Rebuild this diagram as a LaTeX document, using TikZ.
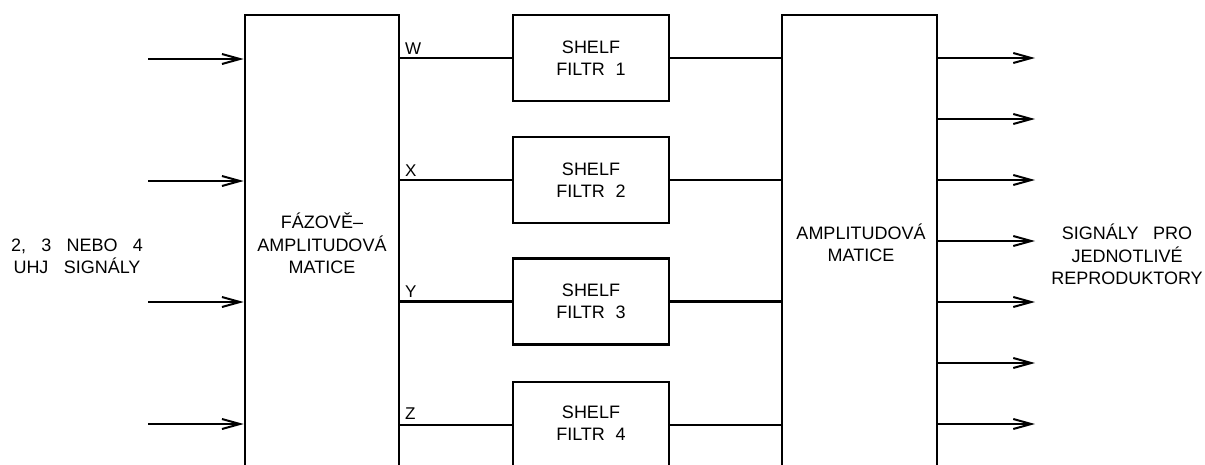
\documentclass[tikz,border=0pt]{standalone}
\usepackage{fontspec}
\setmainfont{Liberation Sans}
\usetikzlibrary{arrows.meta}
\begin{document}
\begin{tikzpicture}[x=1pt,y=-1pt,
  blk/.style={draw,line width=2.6pt,inner sep=0pt},
  txt/.style={font=\fontsize{18}{22.5}\selectfont,align=center,inner sep=0pt},
  lbl/.style={font=\fontsize{17}{20}\selectfont,inner sep=0pt,anchor=south west},
  conn/.style={line width=2.2pt},
  arr/.style={line width=2pt,-{Straight Barb[length=18pt,width=10pt,line width=2pt]}}]
\useasboundingbox (0,0) rectangle (1205,464);
\clip (0,0) rectangle (1205,464);
% main blocks
\node[blk,minimum width=154pt,minimum height=485pt] (fam) at (322,257.5) {};
\node[blk,minimum width=155pt,minimum height=485pt] (am) at (859.5,257.5) {};
\node[blk,minimum width=156pt,minimum height=86pt] (f1) at (591,58) {};
\node[blk,minimum width=156pt,minimum height=86pt] (f2) at (591,180) {};
\node[blk,minimum width=156pt,minimum height=86pt] (f3) at (591,301.5) {};
\node[blk,minimum width=156pt,minimum height=86pt] (f4) at (591,425) {};
% texts
\node[txt] (t1) at (591,58) {SHELF\\FILTR\hspace{0.6em}1};
\node[txt] (t2) at (591,180) {SHELF\\FILTR\hspace{0.6em}2};
\node[txt] (t3) at (591,301.5) {SHELF\\FILTR\hspace{0.6em}3};
\node[txt] (t4) at (591,423) {SHELF\\FILTR\hspace{0.6em}4};
\node[txt] (tfam) at (322,243.5) {FÁZOVĚ–\\AMPLITUDOVÁ\\MATICE};
\node[txt] (tam) at (861,243) {AMPLITUDOVÁ\\MATICE};
\node[txt] (tin) at (77,256.5) {2,\hspace{0.85em}3\hspace{0.85em}NEBO\hspace{0.85em}4\\UHJ\hspace{0.85em}SIGNÁLY};
\node[txt] (tout) at (1127,254.5) {SIGNÁLY\hspace{0.8em}PRO\\JEDNOTLIVÉ\\REPRODUKTORY};
% input free ends
\coordinate (i1) at (148,59);
\coordinate (i2) at (148,181);
\coordinate (i3) at (148,302);
\coordinate (i4) at (148,424);
\foreach \k in {1,2,3,4} \draw[arr] (i\k) -- (i\k -| fam.west);
% filter connections
\foreach \k in {1,2,3,4} {
  \draw[conn] (fam.east |- f\k.west) -- (f\k.west);
  \draw[conn] (f\k.east) -- (f\k.east -| am.west);
}
% channel labels
\node[lbl] (lw) at (405,55) {W};
\node[lbl] (lx) at (405,177) {X};
\node[lbl] (ly) at (405,298) {Y};
\node[lbl] (lz) at (405,420) {Z};
% outputs
\foreach \k/\yy in {1/58,2/119,3/180,4/241,5/302,6/363,7/424} {
  \coordinate (o\k) at (1035,\yy);
  \draw[arr] (am.east |- o\k) -- (o\k);
}
\end{tikzpicture}
\end{document}
